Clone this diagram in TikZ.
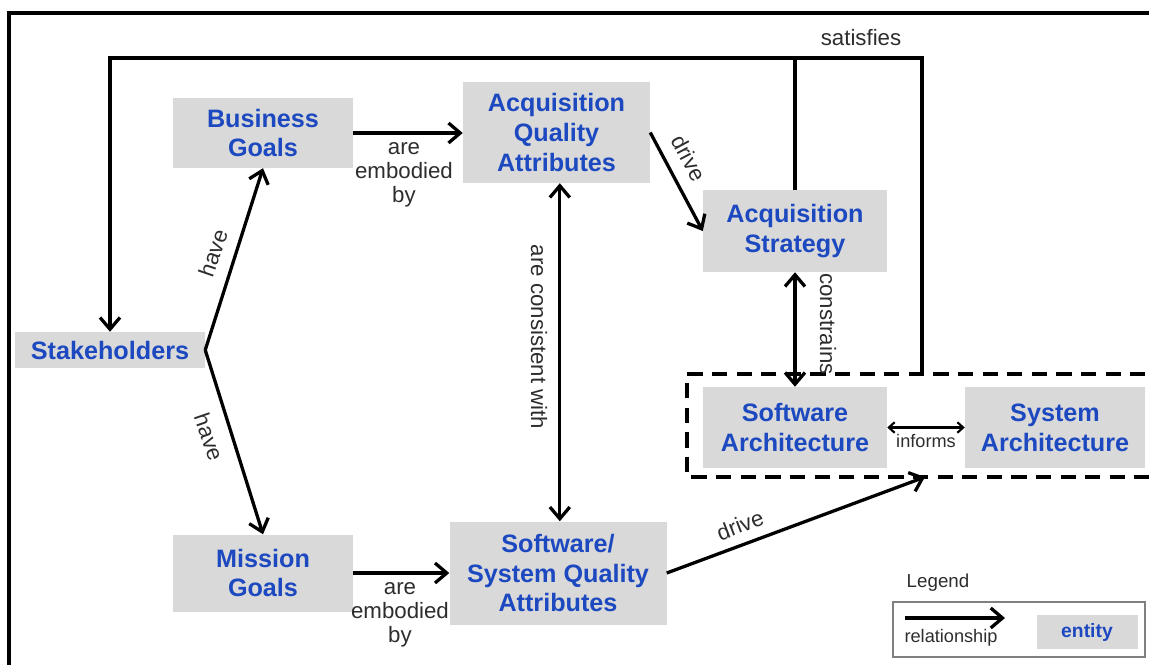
\documentclass[tikz,border=0pt]{standalone}
\usepackage{fontspec}
\setmainfont{Liberation Sans}
\usetikzlibrary{arrows.meta}
\definecolor{boxgray}{RGB}{217,217,217}
\definecolor{entblue}{RGB}{28,72,192}
\definecolor{reltext}{RGB}{45,45,45}
\newcommand\entfont{\fontsize{21.5}{25.5}\selectfont\bfseries}
\newcommand\relfont{\fontsize{19}{20.5}\selectfont}
\tikzstyle{entity} = [rectangle, fill=boxgray, text=entblue, font=\entfont, align=center, inner sep=0pt]
\tikzstyle{rel} = [font=\relfont, text=reltext, align=center, inner sep=0pt]
\tikzstyle{line} = [line width=2.8pt]
\tikzstyle{arrow} = [line width=2.8pt, -{Straight Barb[length=10pt,width=17pt]}]
\tikzstyle{twoway} = [line width=2.8pt, {Straight Barb[length=10pt,width=17pt]}-{Straight Barb[length=10pt,width=17pt]}]
\begin{document}
\begin{tikzpicture}[x=0.03cm, y=-0.03cm]
\useasboundingbox (0,0) rectangle (1149,664);

%% FRAME
\draw [line width=2.8pt] (9,680) -- (9,13) -- (1170,13);

%% NODES

\node (stake) [entity, minimum width=5.7cm, minimum height=1.08cm] at (110,350) {Stakeholders};
\node (bg) [entity, minimum width=5.4cm, minimum height=2.1cm] at (263,133) {Business\\Goals};
\node (mg) [entity, minimum width=5.4cm, minimum height=2.31cm] at (263,573) {Mission\\Goals};
\node (aqa) [entity, minimum width=5.61cm, minimum height=3.03cm] at (556.5,132.5) {Acquisition\\Quality\\Attributes};
\node (ssqa) [entity, minimum width=6.51cm, minimum height=3.09cm] at (558,573) {Software/\\System Quality\\Attributes};
\node (strat) [entity, minimum width=5.52cm, minimum height=2.46cm] at (795,231) {Acquisition\\Strategy};
\node (swa) [entity, minimum width=5.52cm, minimum height=2.43cm] at (795,427.5) {Software\\Architecture};
\node (sya) [entity, minimum width=5.4cm, minimum height=2.43cm] at (1055,427.5) {System\\Architecture};

\coordinate (grptop) at (922,374);
\coordinate (grpbot) at (925,477);
\coordinate (topr) at (922,58);
\coordinate (topl) at (110,58);

%% architecture group
\draw [line width=2.6pt, dash pattern=on 13pt off 8pt] (1170,374) -- (687,374) -- (687,477) -- (1170,477);

%% ARROWS

\draw [arrow] (stake.east) -- (bg.south);
\draw [arrow] (stake.east) -- (mg.north);
\draw [arrow] (bg.east) -- (aqa.west |- bg.east);
\draw [arrow] (mg.east) -- (ssqa.west |- mg.east);
\draw [twoway] ([xshift=0.1cm]aqa.south) -- ([xshift=0.1cm]aqa.south |- ssqa.north);
\draw [arrow] (aqa.east) -- (strat.west);
\draw [twoway] (strat.south) -- (swa.north);
\draw [line width=1.8pt, {Straight Barb[length=5pt,width=9pt]}-{Straight Barb[length=5pt,width=9pt]}] (swa.east) -- (sya.west);
\draw [arrow] (ssqa.east) -- (grpbot);
\draw [arrow] (grptop) -- (topr) -- (topl) -- (stake.north);
\draw [line] (strat.north) -- (strat.north |- topr);

%% LABELS

\node (l1) [rel, rotate=71] at (213,253) {have};
\node (l2) [rel, rotate=-71] at (209,437) {have};
\node (l3) [rel] at (404,175) {are\\embodied\\by};
\node (l4) [rel] at (400,615) {are\\embodied\\by};
\node (l5) [rel, rotate=-90] at (539,337) {are consistent with};
\node (l6) [rel, rotate=-62] at (689,158) {drive};
\node (l7) [rel, rotate=-90] at (828,324) {constrains};
\node (l8) [rel, font=\fontsize{15.5}{17}\selectfont] at (926,441) {informs};
\node (l9) [rel, rotate=21] at (740,525) {drive};
\node (l10) [rel] at (861,38) {satisfies};

%% LEGEND

\node (leg) [rel, font=\fontsize{16}{18}\selectfont] at (938,583) {Legend};
\draw [draw=gray, line width=1.2pt] (893,602) rectangle (1145,657);
\coordinate (lega) at (905,618);
\coordinate (legb) at (1005,618);
\draw [arrow] (lega) -- (legb);
\node (legr) [rel, font=\fontsize{15.5}{17}\selectfont] at (951,638) {relationship};
\node (lege) [entity, font=\fontsize{16.5}{18}\selectfont\bfseries, minimum width=3.03cm, minimum height=1.02cm] at (1087,632) {entity};

\end{tikzpicture}
\end{document}
